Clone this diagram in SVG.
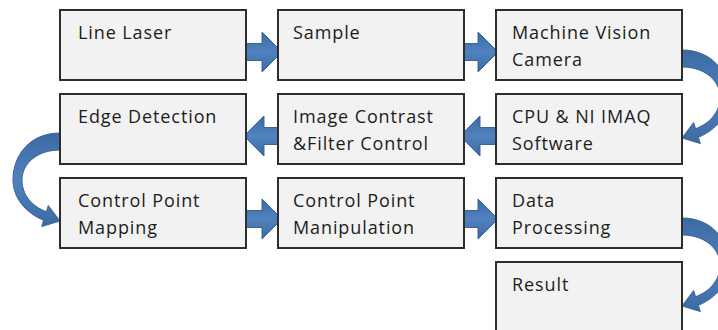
<svg xmlns="http://www.w3.org/2000/svg" width="718" height="330" viewBox="0 0 718 330">
  <defs>
    <style>
      .box { fill: #f2f2f2; stroke: #2e2e2e; stroke-width: 2; }
      .lbl { font-family: "Open Sans", "Liberation Sans", sans-serif; font-size: 18px; fill: #1c1c1c; letter-spacing: 0.9px; }
      .arw { fill: url(#arrowFill); stroke: #3a6597; stroke-width: 1; }
    </style>
    <linearGradient id="arrowFill" x1="0" y1="0" x2="0" y2="1">
      <stop offset="0" stop-color="#3b6aa2"/>
      <stop offset="0.5" stop-color="#5182bf"/>
      <stop offset="1" stop-color="#3b6aa2"/>
    </linearGradient>
    <!-- straight block arrow pointing right, origin at shaft start / centre line -->
    <path id="blockArrow" d="M0,-8.5 H16 V-20 L36,0 L16,20 V8.5 H0 Z"/>
    <!-- curved return arrow, drawn for the left side -->
    <path id="curveArrow" d="M60,133 C30,133 13,155 13,180 C13,198 26,213 43.6,220.3 L41.7,226.5 L60,221 L48.3,205.5 L46.4,211.7 C31,206 22,194 22,180 C22,163 38,150 60,150 Z"/>
  </defs>

  <rect width="718" height="330" fill="#ffffff"/>

  <g id="connectors">
    <use href="#blockArrow" class="arw" transform="translate(246,52)"/>
    <use href="#blockArrow" class="arw" transform="translate(462,52)"/>
    <use href="#blockArrow" class="arw" transform="translate(496,136) scale(-1,1)"/>
    <use href="#blockArrow" class="arw" transform="translate(280,136) scale(-1,1)"/>
    <use href="#blockArrow" class="arw" transform="translate(246,219)"/>
    <use href="#blockArrow" class="arw" transform="translate(462,219)"/>
    <use href="#curveArrow" class="arw" transform="translate(742,-83) scale(-1,1)"/>
    <use href="#curveArrow" class="arw"/>
    <use href="#curveArrow" class="arw" transform="translate(742,85) scale(-1,1)"/>
  </g>

  <g id="line-laser">
    <rect class="box" x="60" y="10" width="186" height="70"/>
    <text class="lbl" x="78" y="39">Line Laser</text>
  </g>
  <g id="sample">
    <rect class="box" x="278" y="10" width="186" height="70"/>
    <text class="lbl" x="293" y="39">Sample</text>
  </g>
  <g id="camera">
    <rect class="box" x="496" y="10" width="186" height="70"/>
    <text class="lbl" x="512" y="39">Machine Vision</text>
    <text class="lbl" x="512" y="66">Camera</text>
  </g>
  <g id="edge-detection">
    <rect class="box" x="60" y="94" width="186" height="70"/>
    <text class="lbl" x="78" y="123">Edge Detection</text>
  </g>
  <g id="contrast-filter">
    <rect class="box" x="278" y="94" width="186" height="70"/>
    <text class="lbl" x="293" y="123">Image Contrast</text>
    <text class="lbl" x="293" y="150">&amp;Filter Control</text>
  </g>
  <g id="cpu-imaq">
    <rect class="box" x="496" y="94" width="186" height="70"/>
    <text class="lbl" x="512" y="123">CPU &amp; NI IMAQ</text>
    <text class="lbl" x="512" y="150">Software</text>
  </g>
  <g id="cp-mapping">
    <rect class="box" x="60" y="178" width="186" height="70"/>
    <text class="lbl" x="78" y="207">Control Point</text>
    <text class="lbl" x="78" y="234">Mapping</text>
  </g>
  <g id="cp-manipulation">
    <rect class="box" x="278" y="178" width="186" height="70"/>
    <text class="lbl" x="293" y="207">Control Point</text>
    <text class="lbl" x="293" y="234">Manipulation</text>
  </g>
  <g id="data-processing">
    <rect class="box" x="496" y="178" width="186" height="70"/>
    <text class="lbl" x="512" y="207">Data</text>
    <text class="lbl" x="512" y="234">Processing</text>
  </g>
  <g id="result">
    <rect class="box" x="496" y="262" width="186" height="80"/>
    <text class="lbl" x="512" y="291">Result</text>
  </g>
</svg>
